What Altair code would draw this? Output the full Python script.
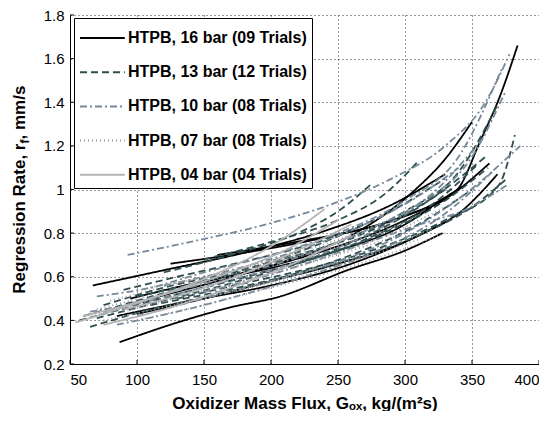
import altair as alt
import pandas as pd

SERIES = ["HTPB, 16 bar (09 Trials)", "HTPB, 13 bar (12 Trials)",
          "HTPB, 10 bar (08 Trials)", "HTPB, 07 bar (08 Trials)",
          "HTPB, 04 bar (04 Trials)"]
COLORS = ["#000000", "#2F4F4F", "#778899", "#9A9A9A", "#B4B4B4"]
DASHES = [[1, 0], [7, 4], [7, 3, 2, 3], [1, 3], [1, 0]]

X_TICKS = [50, 100, 150, 200, 250, 300, 350, 400]
Y_TICKS = [0.2, 0.4, 0.6, 0.8, 1.0, 1.2, 1.4, 1.6, 1.8]

# 16 bar (black, solid)
G16 = [[67, 120, 180, 240, 290, 330],
       [125, 180, 240, 300, 339, 356, 371, 384],
       [87, 130, 170, 207, 257, 300, 328],
       [110, 160, 210, 260, 306, 330, 350],
       [130, 180, 240, 300, 340, 363],
       [85, 140, 200, 260, 310, 342, 369],
       [160, 219, 281, 320, 342],
       [95, 150, 200, 250, 300, 320],
       [100, 150, 200, 250, 300, 330]]
R16 = [[0.56, 0.63, 0.71, 0.81, 0.93, 1.07],
       [0.66, 0.71, 0.78, 0.88, 1.00, 1.22, 1.43, 1.66],
       [0.30, 0.39, 0.46, 0.51, 0.63, 0.72, 0.80],
       [0.50, 0.58, 0.67, 0.79, 0.99, 1.14, 1.31],
       [0.55, 0.62, 0.72, 0.86, 1.00, 1.12],
       [0.42, 0.49, 0.56, 0.66, 0.79, 0.90, 1.07],
       [0.70, 0.76, 0.84, 0.93, 1.01],
       [0.50, 0.58, 0.64, 0.72, 0.84, 0.92],
       [0.43, 0.50, 0.58, 0.66, 0.76, 0.85]]

# 13 bar (dark green, dashed)
G13 = [[57, 100, 150, 200, 250, 300, 330],
       [65, 110, 160, 210, 260, 310, 350],
       [75, 120, 170, 220, 270, 320, 360],
       [90, 130, 180, 230, 280, 330],
       [70, 120, 170, 220, 270, 320, 355],
       [100, 150, 200, 250, 300, 340, 370],
       [130, 180, 230, 280, 330, 370, 382],
       [150, 200, 250, 285, 310],
       [120, 170, 220, 250, 274],
       [80, 130, 180, 230, 280, 330, 362],
       [110, 160, 210, 260, 310, 350, 376],
       [60, 100, 150, 200, 240, 270]]
R13 = [[0.40, 0.47, 0.55, 0.63, 0.73, 0.88, 1.00],
       [0.37, 0.45, 0.52, 0.60, 0.70, 0.84, 1.00],
       [0.47, 0.55, 0.62, 0.70, 0.80, 0.96, 1.15],
       [0.54, 0.60, 0.67, 0.75, 0.87, 1.05],
       [0.41, 0.49, 0.57, 0.66, 0.77, 0.93, 1.12],
       [0.51, 0.58, 0.66, 0.76, 0.90, 1.08, 1.40],
       [0.50, 0.57, 0.64, 0.73, 0.86, 1.02, 1.25],
       [0.68, 0.76, 0.86, 0.98, 1.13],
       [0.62, 0.70, 0.80, 0.90, 1.02],
       [0.45, 0.52, 0.60, 0.68, 0.79, 0.95, 1.10],
       [0.47, 0.53, 0.60, 0.68, 0.79, 0.92, 1.05],
       [0.42, 0.49, 0.58, 0.67, 0.76, 0.84]]

# 10 bar (slate gray, dash-dot)
G10 = [[93, 140, 190, 244, 290, 330, 360, 378],
       [70, 110, 150, 200, 250, 300, 340, 372],
       [65, 110, 160, 210, 260, 310, 350, 375],
       [150, 200, 250, 311, 346, 376],
       [85, 130, 180, 230, 280, 330, 365],
       [100, 150, 200, 250, 300, 345, 386],
       [75, 120, 170, 220, 270, 320, 360],
       [120, 170, 220, 270, 310, 340]]
R10 = [[0.70, 0.76, 0.83, 0.93, 1.05, 1.20, 1.40, 1.62],
       [0.51, 0.55, 0.62, 0.70, 0.80, 0.95, 1.15, 1.55],
       [0.44, 0.49, 0.57, 0.65, 0.76, 0.93, 1.15, 1.45],
       [0.53, 0.61, 0.71, 0.84, 0.91, 1.02],
       [0.38, 0.44, 0.52, 0.61, 0.72, 0.89, 1.08],
       [0.42, 0.50, 0.58, 0.67, 0.80, 0.98, 1.20],
       [0.44, 0.52, 0.60, 0.69, 0.81, 0.98, 1.25],
       [0.56, 0.63, 0.72, 0.84, 0.97, 1.10]]

# 07 bar (gray, dotted)
G07 = [[60, 110, 160, 210, 260, 300],
       [75, 120, 170, 220, 270, 310],
       [90, 140, 190, 240, 290, 330],
       [110, 160, 210, 260, 300],
       [70, 120, 170, 220, 270],
       [100, 150, 200, 250, 300, 330],
       [130, 180, 230, 280, 320],
       [80, 130, 180, 230, 280, 310]]
R07 = [[0.42, 0.48, 0.55, 0.63, 0.72, 0.80],
       [0.40, 0.46, 0.53, 0.60, 0.69, 0.77],
       [0.44, 0.52, 0.60, 0.69, 0.80, 0.92],
       [0.55, 0.61, 0.68, 0.76, 0.85],
       [0.45, 0.53, 0.61, 0.70, 0.80],
       [0.40, 0.47, 0.55, 0.63, 0.73, 0.80],
       [0.48, 0.55, 0.63, 0.72, 0.82],
       [0.49, 0.57, 0.64, 0.73, 0.84, 0.93]]

# 04 bar (light gray, solid)
G04 = [[54, 100, 150, 200, 240],
       [60, 110, 160, 210, 250],
       [75, 120, 170, 220, 260],
       [90, 140, 190, 230, 260]]
R04 = [[0.39, 0.48, 0.59, 0.74, 0.91],
       [0.42, 0.50, 0.60, 0.72, 0.86],
       [0.38, 0.45, 0.55, 0.67, 0.79],
       [0.45, 0.53, 0.64, 0.75, 0.84]]

ALL = [(G16, R16), (G13, R13), (G10, R10), (G07, R07), (G04, R04)]
rows = []
for s, (gl, rl) in enumerate(ALL):
    for k, (g, r) in enumerate(zip(gl, rl)):
        for gi, ri in zip(g, r):
            rows.append({"series": SERIES[s], "trial": f"{s}-{k:02d}", "G": gi, "r": ri})
df = pd.DataFrame(rows)

FONT = "Liberation Sans"
W, H = 469, 349
xs = alt.Scale(domain=[50, 400], nice=False, zero=False)
ys = alt.Scale(domain=[0.2, 1.8], nice=False, zero=False)
GRID = dict(grid=True, gridColor="#000000", gridDash=[1, 3], gridWidth=1, gridOpacity=0.8)
XAX = alt.Axis(values=X_TICKS, format="d", title="Oxidizer Mass Flux, Gₒₓ, kg/(m²s)",
               titleFont=FONT, titleFontSize=17, titleFontWeight="bold", titleColor="black",
               titlePadding=8, labelPadding=8, **GRID)
YAX = alt.Axis(values=Y_TICKS, format="~g", title=None, labelPadding=6, **GRID)

leg = alt.Legend(title=None, orient="none", legendX=4, legendY=3,
                 fillColor="white", strokeColor="black", padding=5,
                 symbolType="M-1,0H2.2", symbolSize=784, symbolStrokeWidth=2,
                 labelFont=FONT, labelFontSize=16, labelFontWeight="bold",
                 labelColor="black", labelOffset=19, labelLimit=400, rowPadding=11.2)

lines = alt.Chart(df).mark_line(strokeWidth=1.8, interpolate="monotone").encode(
    x=alt.X("G:Q", scale=xs, axis=XAX),
    y=alt.Y("r:Q", scale=ys, axis=YAX),
    color=alt.Color("series:N", scale=alt.Scale(domain=SERIES, range=COLORS), legend=leg),
    strokeDash=alt.StrokeDash("series:N", scale=alt.Scale(domain=SERIES, range=DASHES), legend=leg),
    detail="trial:N",
)

xt = alt.Chart(pd.DataFrame({"G": X_TICKS})).mark_rule(color="black", strokeWidth=1).encode(
    x=alt.X("G:Q", scale=xs, axis=XAX), y=alt.value(H), y2=alt.value(H - 4))
ytk = alt.Chart(pd.DataFrame({"r": Y_TICKS})).mark_rule(color="black", strokeWidth=1).encode(
    y=alt.Y("r:Q", scale=ys, axis=YAX), x=alt.value(0), x2=alt.value(4))

tkw = dict(angle=270, font=FONT, fontWeight="bold", color="black", baseline="alphabetic")
t1 = alt.Chart(pd.DataFrame({"t": ["Regression Rate, r"]})).mark_text(
    align="right", fontSize=17, **tkw).encode(text="t:N", x=alt.value(-45), y=alt.value(128.5))
t2 = alt.Chart(pd.DataFrame({"t": ["f"]})).mark_text(
    align="left", fontSize=12, **tkw).encode(text="t:N", x=alt.value(-41), y=alt.value(128.5))
t3 = alt.Chart(pd.DataFrame({"t": [", mm/s"]})).mark_text(
    align="left", fontSize=17, **tkw).encode(text="t:N", x=alt.value(-45), y=alt.value(124.5))

chart = alt.layer(lines, xt, ytk, t1, t2, t3).properties(
    width=W, height=H,
    padding={"left": 62, "top": 7, "right": 0, "bottom": 47},
    autosize=alt.AutoSizeParams(type="none"),
    background="white",
).configure_view(strokeWidth=0).configure_axis(
    domainColor="black", domainWidth=1, ticks=False,
    labelFont=FONT, labelFontSize=15, labelColor="black",
)

chart.save("out.html", embed_options={"renderer": "svg", "actions": False})
